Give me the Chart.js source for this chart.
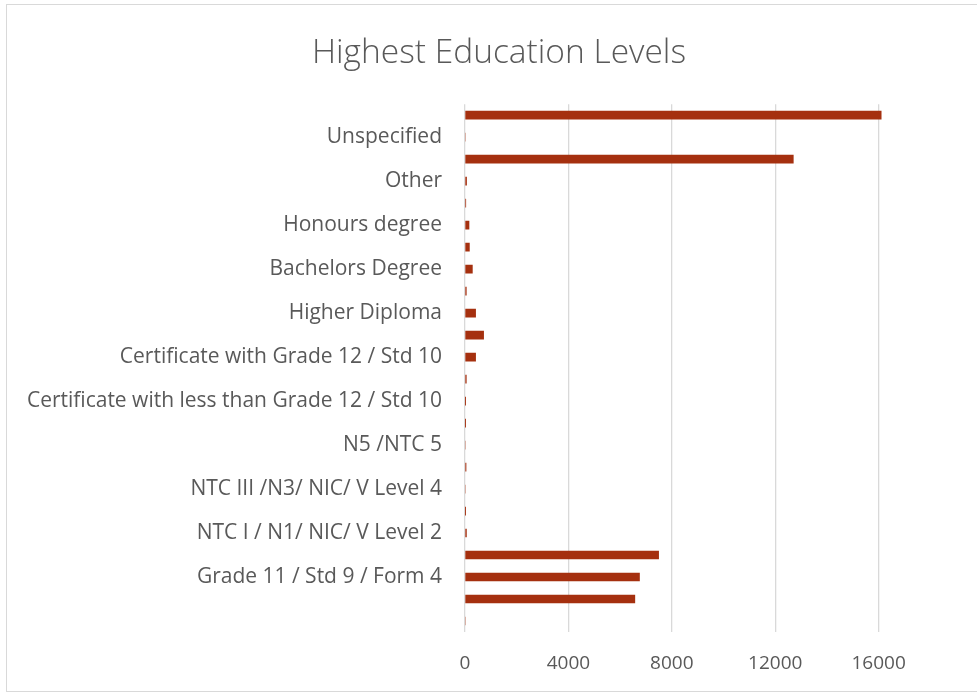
<!DOCTYPE html>
<html>
<head>
<meta charset="utf-8">
<title>Highest Education Levels</title>
<script src="https://cdn.jsdelivr.net/npm/chart.js@4.4.1/dist/chart.umd.min.js"></script>
<style>
  html, body { margin: 0; padding: 0; background: #fff; overflow: hidden; }
  body { width: 977px; height: 693px; position: relative; }
  #frame { position: absolute; left: 6px; top: 4px; width: 1010px; height: 688px; border: 1px solid #d9d9d9; box-sizing: border-box; }
  #chartEdu { position: absolute; left: 8px; top: 5px; width: 994px; height: 686px; }
</style>
</head>
<body>
<div id="frame"></div>
<canvas id="chartEdu" width="994" height="686"></canvas>
<script>
/* ---- data (top to bottom as in the picture) ---- */
const categories = [
    "Not applicable",
    "Unspecified",
    "No schooling",
    "Other",
    "Higher Degree Masters / PhD",
    "Honours degree",
    "Bachelors Degree and Post graduate Diploma",
    "Bachelors Degree",
    "Post Higher Diploma Masters; Doctoral Diploma",
    "Higher Diploma",
    "Diploma with Grade 12 / Std 10",
    "Certificate with Grade 12 / Std 10",
    "Diploma with less than Grade 12 / Std 10",
    "Certificate with less than Grade 12 / Std 10",
    "N6 / NTC 6",
    "N5 /NTC 5",
    "N4 / NTC 4",
    "NTC III /N3/ NIC/ V Level 4",
    "NTC II / N2/ NIC/ V Level 3",
    "NTC I / N1/ NIC/ V Level 2",
    "Grade 12 / Std 10 / Form 5",
    "Grade 11 / Std 9 / Form 4",
    "Grade 10 / Std 8 / Form 3",
    ""
];
const counts = [
    16100, 0, 12700, 60, 30, 155, 170, 285, 50, 410, 720, 410,
    50, 15, 15, 0, 40, 0, 15, 55, 7490, 6750, 6570, 0
];
const xTicksShown = [0, 4000, 8000, 12000, 16000];

const textColor = "#595959";
const gridColor = "#d9d9d9";

const ctx = document.getElementById("chartEdu").getContext("2d");
const chartEdu = new Chart(ctx, {
    type: "bar",
    data: {
        labels: categories,
        datasets: [{
            label: "Count",
            data: counts,
            backgroundColor: "#a5300f",
            barThickness: 8
        }]
    },
    options: {
        indexAxis: "y",
        responsive: false,
        animation: false,
        layout: { padding: { top: 0, right: 20, bottom: 0, left: 8 } },
        plugins: {
            legend: { display: false },
            tooltip: { enabled: false },
            title: {
                display: true,
                text: "Highest Education Levels",
                color: textColor,
                font: { family: "'Open Sans', sans-serif", size: 33.5, weight: "300" },
                padding: { top: 28, bottom: 31 }
            }
        },
        scales: {
            x: {
                min: 0,
                max: 20000,
                ticks: {
                    stepSize: 4000,
                    color: textColor,
                    font: { family: "'Open Sans', sans-serif", size: 19 },
                    padding: 20,
                    maxRotation: 0,
                    callback: function(v) {
                        return xTicksShown.includes(v) ? String(v) : "";
                    }
                },
                grid: { color: gridColor, lineWidth: 1.3, drawTicks: false },
                border: { display: false },
                afterFit: function(s) { s.height = 59; }
            },
            y: {
                ticks: {
                    autoSkip: false,
                    color: textColor,
                    font: { family: "'Open Sans', sans-serif", size: 21 },
                    padding: 15,
                    callback: function(v, i) {
                        return i % 2 === 1 ? categories[i] : "";
                    }
                },
                grid: { display: false },
                border: { display: false },
                afterFit: function(s) { s.width = 449; }
            }
        }
    }
});
</script>
</body>
</html>
